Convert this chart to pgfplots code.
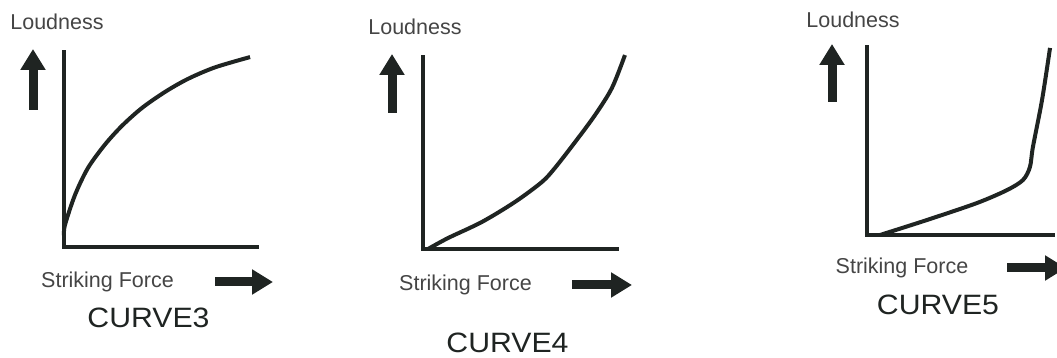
\documentclass[border=0pt]{standalone}
\usepackage{fontspec}
\setmainfont{Liberation Sans}
\usepackage{pgfplots}
\pgfplotsset{compat=1.18}
\usetikzlibrary{arrows.meta}

\definecolor{ink}{HTML}{1F2422}
\definecolor{lab}{HTML}{454545}

\pgfplotsset{
  sketch/.style={
    scale only axis,
    axis lines=left,
    axis line style={-, line width=4pt, color=ink, line cap=rect},
    xmin=0, xmax=1, ymin=0, ymax=1,
    xtick=\empty, ytick=\empty,
    clip=false,
    anchor=south west,
  },
  curve/.style={ink, line width=4pt, smooth, no markers},
}

\tikzset{
  bigarrow/.style={ink, line width=9pt, -{Triangle[width=24pt,length=21pt]}},
  small/.style={lab, font=\fontsize{21.5}{24}\selectfont, inner sep=0pt},
  big/.style={ink, font=\fontsize{28}{32}\selectfont, inner sep=0pt, xscale=1.08},
}

\begin{document}
\begin{tikzpicture}
\useasboundingbox (0pt,0pt) rectangle (1057pt,358pt);

% CURVE3
\begin{axis}[sketch, at={(64pt,111pt)}, width=193pt, height=195pt]
\addplot[curve] coordinates {
  (0,0.06) (0.005,0.113) (0.057,0.267) (0.124,0.405) (0.212,0.525)
  (0.301,0.622) (0.404,0.713) (0.523,0.795) (0.642,0.862) (0.782,0.921) (0.964,0.974)
};
\end{axis}
\node[small] at (57pt,336pt) {Loudness};
\draw[bigarrow] (33pt,248pt) -- (33pt,309pt);
\node[small] at (107.5pt,76pt) {Striking Force};
\draw[bigarrow] (215pt,76pt) -- (273pt,76pt);
\node[big] at (148.5pt,40pt) {CURVE3};

% CURVE4
\begin{axis}[sketch, at={(423pt,109pt)}, width=194pt, height=192pt]
\addplot[curve] coordinates {
  (0.026,0) (0.129,0.057) (0.304,0.141) (0.474,0.245) (0.613,0.349)
  (0.680,0.422) (0.784,0.557) (0.887,0.698) (0.974,0.839) (1.041,1.010)
};
\end{axis}
\node[small] at (415pt,331pt) {Loudness};
\draw[bigarrow] (392pt,245pt) -- (392pt,304pt);
\node[small] at (465.5pt,73pt) {Striking Force};
\draw[bigarrow] (572pt,73pt) -- (632pt,73pt);
\node[big] at (507.5pt,15pt) {CURVE4};

% CURVE5
\begin{axis}[sketch, at={(867pt,123pt)}, width=186pt, height=188pt]
\addplot[curve] coordinates {
  (0.070,0) (0.323,0.080) (0.591,0.170) (0.753,0.239) (0.839,0.293)
  (0.876,0.362) (0.892,0.468) (0.941,0.718) (0.984,0.995)
};
\end{axis}
\node[small] at (853pt,338pt) {Loudness};
\draw[bigarrow] (832pt,256pt) -- (832pt,314pt);
\node[small] at (902pt,90pt) {Striking Force};
\draw[bigarrow] (1007pt,90pt) -- (1066pt,90pt);
\node[big] at (938pt,53pt) {CURVE5};
\end{tikzpicture}
\end{document}
